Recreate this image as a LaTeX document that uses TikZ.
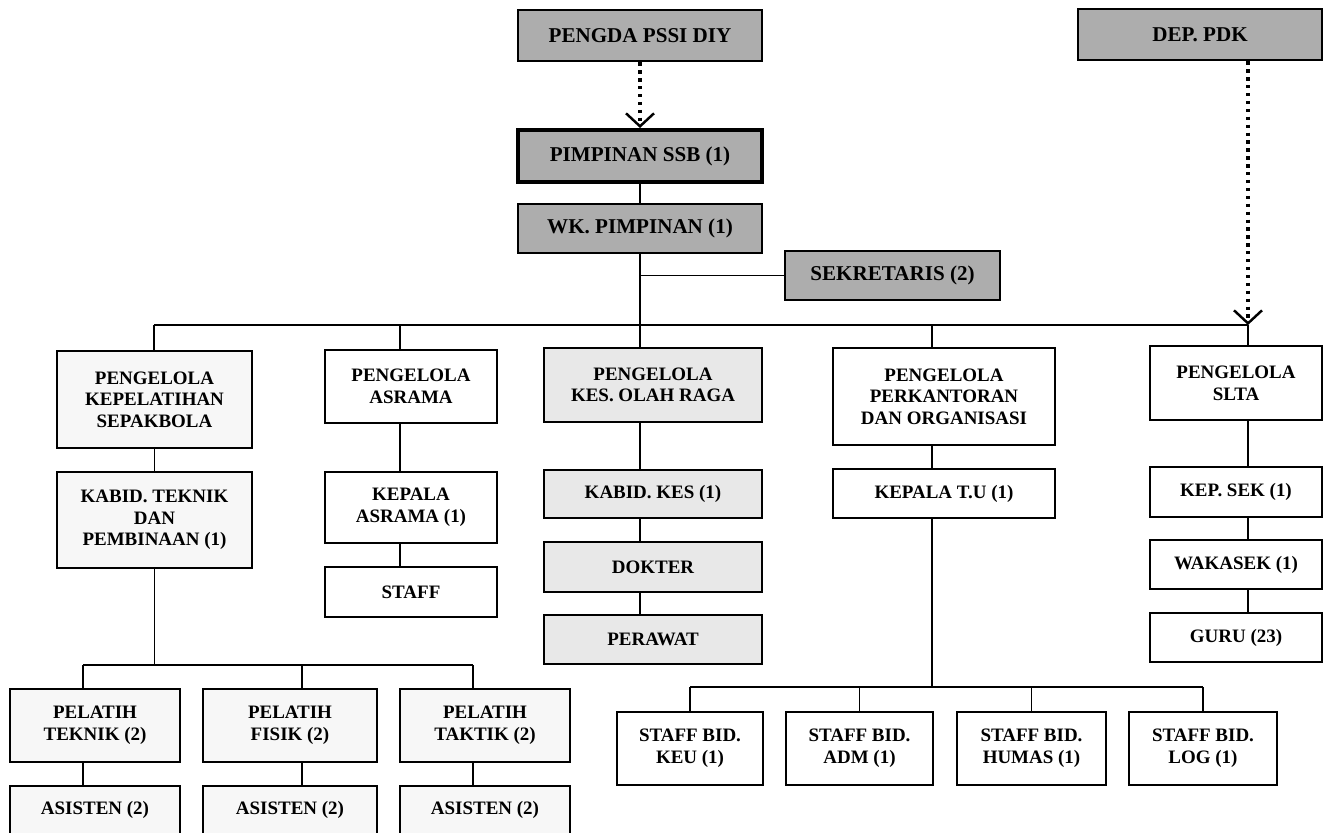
\documentclass[tikz,border=0pt]{standalone}
\usepackage{fontspec}
\setmainfont{Liberation Serif}
\usetikzlibrary{arrows.meta}

\begin{document}
\begin{tikzpicture}[x=0.02cm,y=-0.02cm,
  unit/.style={draw,line width=1pt,align=center,inner sep=0pt,
    font=\bfseries\fontsize{10.8}{12.3}\selectfont},
  head/.style={unit,fill=black!32,line width=1.6pt,
    font=\bfseries\fontsize{12}{14}\selectfont},
  tint/.style={unit,fill=black!9},
  faint/.style={unit,fill=black!3},
  link/.style={line width=0.9pt},
  dots/.style={line width=1.9pt,dash pattern=on 1.9pt off 2.6pt,
    -{Straight Barb[length=0.26cm,width=0.56cm,line width=1.4pt]}}]
  \useasboundingbox (0,0) rectangle (1328,832);
  \clip (0,0) rectangle (1328,832);

  \node[head,minimum width=4.88cm,minimum height=1.02cm] (pengda) at (640,35.5) {PENGDA PSSI DIY};
  \node[head,minimum width=4.88cm,minimum height=1.02cm] (dep) at (1200,34.5) {DEP. PDK};
  \node[head,line width=2.3pt,minimum width=4.88cm,minimum height=1.04cm] (pim) at (640,156) {PIMPINAN SSB (1)};
  \node[head,minimum width=4.88cm,minimum height=0.98cm] (wk) at (640,228.5) {WK. PIMPINAN (1)};
  \node[head,minimum width=4.3cm,minimum height=0.98cm] (sek) at (892.5,275.5) {SEKRETARIS (2)};

  \node[faint,minimum width=3.9cm,minimum height=1.94cm] (pkl) at (154.5,399.5) {PENGELOLA\\KEPELATIHAN\\SEPAKBOLA};
  \node[unit,minimum width=3.44cm,minimum height=1.46cm] (pas) at (411,386.5) {PENGELOLA\\ASRAMA};
  \node[tint,minimum width=4.36cm,minimum height=1.48cm] (pkes) at (653,385) {PENGELOLA\\KES. OLAH RAGA};
  \node[unit,minimum width=4.44cm,minimum height=1.94cm] (pko) at (944,396.5) {PENGELOLA\\PERKANTORAN\\DAN ORGANISASI};
  \node[unit,minimum width=3.44cm,minimum height=1.48cm] (psl) at (1236,383) {PENGELOLA\\SLTA};

  \node[faint,minimum width=3.9cm,minimum height=1.92cm] (kabt) at (154.5,520) {KABID. TEKNIK\\DAN\\PEMBINAAN (1)};
  \node[unit,minimum width=3.44cm,minimum height=1.42cm] (kasr) at (411,507.5) {KEPALA\\ASRAMA (1)};
  \node[tint,minimum width=4.36cm,minimum height=0.96cm] (kkes) at (653,494) {KABID. KES (1)};
  \node[unit,minimum width=4.44cm,minimum height=0.98cm] (ktu) at (944,493.5) {KEPALA T.U (1)};
  \node[unit,minimum width=3.44cm,minimum height=1cm] (ksek) at (1236,492) {KEP. SEK (1)};

  \node[unit,minimum width=3.44cm,minimum height=1cm] (staff) at (411,592) {STAFF};
  \node[tint,minimum width=4.36cm,minimum height=1cm] (dok) at (653,567) {DOKTER};
  \node[unit,minimum width=3.44cm,minimum height=0.98cm] (waka) at (1236,564.5) {WAKASEK (1)};
  \node[tint,minimum width=4.36cm,minimum height=0.98cm] (prw) at (653,639.5) {PERAWAT};
  \node[unit,minimum width=3.44cm,minimum height=0.98cm] (guru) at (1236,637.5) {GURU (23)};

  \node[faint,minimum width=3.4cm,minimum height=1.46cm] (plt1) at (95,725.5) {PELATIH\\TEKNIK (2)};
  \node[faint,minimum width=3.48cm,minimum height=1.46cm] (plt2) at (290,725.5) {PELATIH\\FISIK (2)};
  \node[faint,minimum width=3.4cm,minimum height=1.46cm] (plt3) at (485,725.5) {PELATIH\\TAKTIK (2)};
  \node[faint,minimum width=3.4cm,minimum height=0.96cm] (as1) at (95,810) {ASISTEN (2)};
  \node[faint,minimum width=3.48cm,minimum height=0.96cm] (as2) at (290,810) {ASISTEN (2)};
  \node[faint,minimum width=3.4cm,minimum height=0.96cm] (as3) at (485,810) {ASISTEN (2)};

  \node[unit,minimum width=2.92cm,minimum height=1.46cm] (sb1) at (690,748.5) {STAFF BID.\\KEU (1)};
  \node[unit,minimum width=2.94cm,minimum height=1.46cm] (sb2) at (859.5,748.5) {STAFF BID.\\ADM (1)};
  \node[unit,minimum width=2.98cm,minimum height=1.46cm] (sb3) at (1031.5,748.5) {STAFF BID.\\HUMAS (1)};
  \node[unit,minimum width=2.96cm,minimum height=1.46cm] (sb4) at (1203,748.5) {STAFF BID.\\LOG (1)};

  \coordinate (busA) at (154,325);
  \coordinate (busB) at (400,325);
  \coordinate (busC) at (640,325);
  \coordinate (busD) at (932,325);
  \coordinate (busE) at (1248,325);
  \coordinate (tA) at (83,665);
  \coordinate (tB) at (302,665);
  \coordinate (tC) at (473,665);
  \coordinate (sA) at (690,687);
  \coordinate (sD) at (1203,687);

  \draw[dots] (pengda) -- (pim);
  \draw[dots] (dep.south -| busE) -- (busE);
  \draw[link] (pim) -- (wk);
  \draw[link] (wk.south -| busC) -- (busC |- pkes.north);
  \draw[link] (wk.south |- sek) -- (sek);
  \draw[link] (busA) -- (busE);
  \foreach \b/\n in {busA/pkl,busB/pas,busD/pko,busE/psl}
    \draw[link] (\b) -- (\b |- \n.north);

  \draw[link] (pkl) -- (kabt);
  \draw[link] (kabt.south) -- (kabt.south |- tA);
  \draw[link] (tA) -- (tC);
  \foreach \t/\n/\m in {tA/plt1/as1,tB/plt2/as2,tC/plt3/as3} {
    \draw[link] (\t) -- (\t |- \n.north);
    \draw[link] (\n.south -| \t) -- (\m.north -| \t);
  }

  \foreach \n/\m in {pas/kasr,kasr/staff}
    \draw[link] (\n.south -| busB) -- (\m.north -| busB);
  \foreach \n/\m in {pkes/kkes,kkes/dok,dok/prw}
    \draw[link] (\n.south -| busC) -- (\m.north -| busC);
  \foreach \n/\m in {psl/ksek,ksek/waka,waka/guru}
    \draw[link] (\n.south -| busE) -- (\m.north -| busE);

  \draw[link] (pko.south -| busD) -- (ktu.north -| busD);
  \draw[link] (ktu.south -| busD) -- (busD |- sA);
  \draw[link] (sA) -- (sD);
  \foreach \n in {sb1,sb2,sb3,sb4}
    \draw[link] (\n.north) -- (\n.north |- sA);
\end{tikzpicture}
\end{document}
